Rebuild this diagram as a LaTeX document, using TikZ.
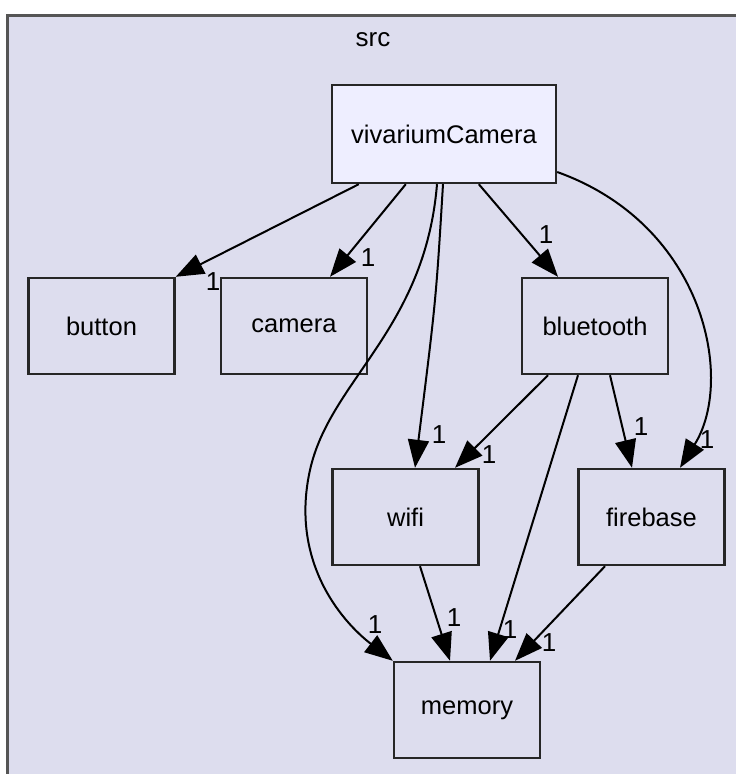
\documentclass[tikz,border=0pt]{standalone}
\usepackage{fontspec}
\setmainfont{Liberation Sans}
\usetikzlibrary{arrows.meta}
\definecolor{clusterbg}{HTML}{DDDDEE}
\definecolor{mainbg}{HTML}{EEEEFF}
\definecolor{clusterline}{HTML}{555555}
\tikzset{
  dir/.style={draw=black!85, line width=2.4pt, fill=clusterbg, minimum width=146pt,
    minimum height=96pt, font=\fontsize{25.5}{30}\selectfont},
  maindir/.style={dir, fill=mainbg, minimum width=224pt, minimum height=98pt},
  dep/.style={line width=2pt, -{Triangle[length=28pt,width=21pt]}},
  lbl/.style={font=\fontsize{26}{30}\selectfont, inner sep=0pt},
}
\begin{document}
\begin{tikzpicture}[x=1pt, y=-1pt]
      \useasboundingbox (0, 0) rectangle (736, 774);
      \draw[clusterline, line width=3pt, fill=clusterbg] (7, 15) rectangle (760, 800);
      \node[lbl] (src) at (373, 40) {src};

      \node[maindir] (viv) at (444, 134) {vivariumCamera};
      \node[dir] (button) at (101.5, 326) {button};
      \node[dir] (camera) at (294, 326) {camera};
      \node[dir] (bluetooth) at (595, 326) {bluetooth};
      \node[dir] (wifi) at (405.5, 517) {wifi};
      \node[dir] (firebase) at (651.5, 517) {firebase};
      \node[dir] (memory) at (467, 710) {memory};

      \draw[dep] ([xshift=28pt]viv.south west) -- (button.north east);
      \draw[dep] ([xshift=75pt]viv.south west) -- ([xshift=36pt]camera.north);
      \draw[dep] ([xshift=148pt]viv.south west) -- ([xshift=-37pt]bluetooth.north);
      \draw[dep] ([xshift=-1pt]viv.south) .. controls (436, 300) .. ([xshift=9.5pt]wifi.north);
      \draw[dep] ([xshift=-7pt]viv.south) .. controls (425, 330) and (330, 380) .. (310, 470)
        .. controls (290, 560) and (340, 620) .. (memory.north west);
      \draw[dep] ([yshift=-38pt]viv.east) .. controls (705, 225) and (735, 380) .. ([xshift=28.5pt]firebase.north);

      \draw[dep] ([xshift=-47pt]bluetooth.south) -- ([xshift=49.5pt]wifi.north);
      \draw[dep] ([xshift=-17pt]bluetooth.south) -- ([xshift=23pt]memory.north);
      \draw[dep] ([xshift=15pt]bluetooth.south) -- ([xshift=-19.5pt]firebase.north);

      \draw[dep] ([xshift=14.5pt]wifi.south) -- ([xshift=-17pt]memory.north);
      \draw[dep] ([xshift=-46.5pt]firebase.south) -- ([xshift=48pt]memory.north);

      \node[lbl] (l_button) at (213, 282) {1};
      \node[lbl] (l_camera) at (368, 258) {1};
      \node[lbl] (l_bluetooth) at (546, 235) {1};
      \node[lbl] (l_wifi_1) at (439, 435) {1};
      \node[lbl] (l_wifi_2) at (489, 455) {1};
      \node[lbl] (l_firebase_1) at (641, 427) {1};
      \node[lbl] (l_firebase_2) at (707, 440) {1};
      \node[lbl] (l_memory_1) at (375, 625) {1};
      \node[lbl] (l_memory_2) at (454, 618) {1};
      \node[lbl] (l_memory_3) at (510, 630) {1};
      \node[lbl] (l_memory_4) at (549, 643) {1};
\end{tikzpicture}
\end{document}
